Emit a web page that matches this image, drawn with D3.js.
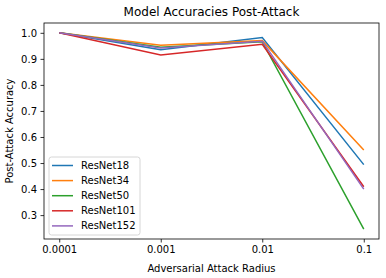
<!DOCTYPE html>
<html lang="en">
  <head>
    <meta charset="UTF-8" />
    <title>Model Accuracies Post-Attack</title>
    <script src="https://cdn.jsdelivr.net/npm/d3@7"></script>
    <style>
      body {
        margin: 0;
        background: #fff;
      }
      text {
        font-family: "DejaVu Sans", sans-serif;
      }
    </style>
  </head>
  <body>
    <script>
      const radii = ["0.0001", "0.001", "0.01", "0.1"];
      const models = ["ResNet18", "ResNet34", "ResNet50", "ResNet101", "ResNet152"];
      const resnet18 = [1.0, 0.935, 0.982, 0.494];
      const resnet34 = [1.0, 0.952, 0.97, 0.55];
      const resnet50 = [1.0, 0.945, 0.966, 0.246];
      const resnet101 = [1.0, 0.915, 0.956, 0.409];
      const resnet152 = [1.0, 0.942, 0.968, 0.4];
      const yTicks = [0.3, 0.4, 0.5, 0.6, 0.7, 0.8, 0.9, 1.0];
      const colors = ["#1f77b4", "#ff7f0e", "#2ca02c", "#d62728", "#9467bd"];

      const series = [resnet18, resnet34, resnet50, resnet101, resnet152];

      const width = 386;
      const height = 278;
      const margin = { top: 23, right: 7, bottom: 39, left: 44 };

      const svg = d3
        .select("body")
        .append("svg")
        .attr("width", width)
        .attr("height", height);

      const x = d3
        .scaleLinear()
        .domain([-0.15, radii.length - 1 + 0.15])
        .range([margin.left, width - margin.right]);

      const allVals = series.flat();
      const lo = d3.min(allVals);
      const hi = d3.max(allVals);
      const pad = (hi - lo) * 0.05;
      const y = d3
        .scaleLinear()
        .domain([lo - pad, hi + pad])
        .range([height - margin.bottom, margin.top]);

      const line = d3
        .line()
        .x((d, i) => x(i))
        .y((d) => y(d));

      // lines
      series.forEach((s, k) => {
        svg
          .append("path")
          .datum(s)
          .attr("fill", "none")
          .attr("stroke", colors[k])
          .attr("stroke-width", 1.5)
          .attr("d", line);
      });

      // axes
      const xAxis = svg
        .append("g")
        .attr("transform", `translate(0,${height - margin.bottom})`)
        .call(
          d3
            .axisBottom(x)
            .tickValues(d3.range(radii.length))
            .tickFormat((i) => radii[i])
            .tickSizeOuter(0)
            .tickSize(3.5)
            .tickPadding(3.5)
        );
      const yAxis = svg
        .append("g")
        .attr("transform", `translate(${margin.left},0)`)
        .call(
          d3
            .axisLeft(y)
            .tickValues(yTicks)
            .tickFormat(d3.format(".1f"))
            .tickSizeOuter(0)
            .tickSize(3.5)
            .tickPadding(3.5)
        );
      [xAxis, yAxis].forEach((g) => {
        g.selectAll("text").attr("font-size", 10).attr("fill", "#000");
        g.selectAll("line").attr("stroke", "#000").attr("stroke-width", 0.8);
        g.select(".domain").remove();
      });

      // frame
      svg
        .append("rect")
        .attr("x", margin.left)
        .attr("y", margin.top)
        .attr("width", width - margin.left - margin.right)
        .attr("height", height - margin.top - margin.bottom)
        .attr("fill", "none")
        .attr("stroke", "#000")
        .attr("stroke-width", 0.8);

      // title and labels
      svg
        .append("text")
        .attr("x", (margin.left + width - margin.right) / 2)
        .attr("y", 16)
        .attr("text-anchor", "middle")
        .attr("font-size", 12)
        .text("Model Accuracies Post-Attack");

      svg
        .append("text")
        .attr("x", (margin.left + width - margin.right) / 2)
        .attr("y", 272)
        .attr("text-anchor", "middle")
        .attr("font-size", 10)
        .text("Adversarial Attack Radius");

      svg
        .append("text")
        .attr(
          "transform",
          `translate(13,${(margin.top + height - margin.bottom) / 2}) rotate(-90)`
        )
        .attr("text-anchor", "middle")
        .attr("font-size", 10)
        .text("Post-Attack Accuracy");

      // legend
      const legend = svg.append("g").attr("transform", "translate(49,157)");
      legend
        .append("rect")
        .attr("width", 91)
        .attr("height", 78)
        .attr("rx", 2.5)
        .attr("fill", "#fff")
        .attr("fill-opacity", 0.8)
        .attr("stroke", "#ccc")
        .attr("stroke-width", 0.8);
      const item = legend
        .selectAll(".item")
        .data(models)
        .join("g")
        .attr("class", "item")
        .attr("transform", (d, i) => `translate(0,${8.5 + i * 15.1})`);
      item
        .append("line")
        .attr("x1", 3)
        .attr("x2", 24)
        .attr("stroke", (d, i) => colors[i])
        .attr("stroke-width", 1.5);
      item
        .append("text")
        .attr("x", 32)
        .attr("dy", "0.35em")
        .attr("font-size", 10)
        .text((d) => d);
    </script>
  </body>
</html>
